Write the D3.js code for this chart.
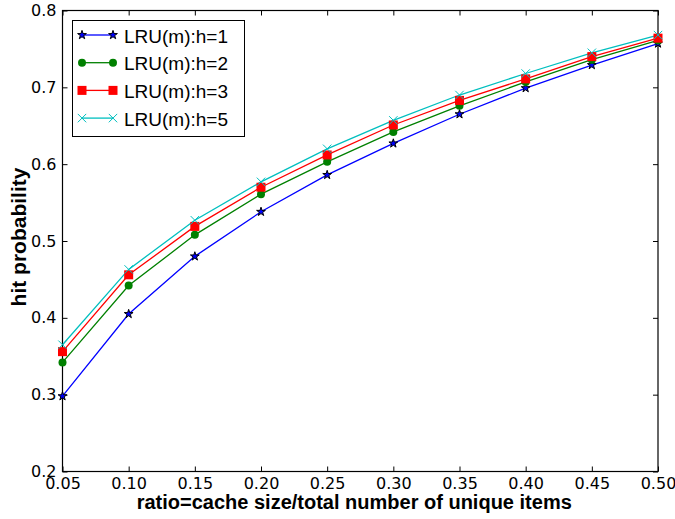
<!DOCTYPE html>
<html>
<head>
<meta charset="utf-8">
<script src="https://cdn.jsdelivr.net/npm/d3@7"></script>
<style>
  html, body { margin: 0; padding: 0; background: #fff; }
  svg { display: block; font-family: "Liberation Sans", Arial, Helvetica, sans-serif; }
</style>
</head>
<body>
<svg id="chart" width="675" height="519"></svg>
<script>
// Cache size ratios on the x axis
const ratios = [0.05, 0.10, 0.15, 0.20, 0.25, 0.30, 0.35, 0.40, 0.45, 0.50];

// Hit probability for LRU(m) with h levels
const hitH1 = [0.298, 0.405, 0.480, 0.538, 0.586, 0.627, 0.665, 0.699, 0.729, 0.757];
const hitH2 = [0.342, 0.442, 0.508, 0.561, 0.603, 0.642, 0.676, 0.707, 0.736, 0.761];
const hitH3 = [0.356, 0.456, 0.519, 0.570, 0.612, 0.651, 0.683, 0.711, 0.740, 0.764];
const hitH5 = [0.365, 0.463, 0.527, 0.577, 0.620, 0.657, 0.690, 0.718, 0.745, 0.768];

const seriesNames = ["LRU(m):h=1", "LRU(m):h=2", "LRU(m):h=3", "LRU(m):h=5"];

const xTicks = [0.05, 0.10, 0.15, 0.20, 0.25, 0.30, 0.35, 0.40, 0.45, 0.50];
const yTicks = [0.2, 0.3, 0.4, 0.5, 0.6, 0.7, 0.8];

const series = [
  { name: seriesNames[0], values: hitH1, color: "#0000ff", marker: "star" },
  { name: seriesNames[1], values: hitH2, color: "#008000", marker: "circle" },
  { name: seriesNames[2], values: hitH3, color: "#ff0000", marker: "square" },
  { name: seriesNames[3], values: hitH5, color: "#00bfbf", marker: "cross" }
];

const svg = d3.select("#chart");
const W = 675, H = 519;
const margin = { left: 62.5, top: 10.5, right: W - 658, bottom: H - 471.5 };

const x = d3.scaleLinear().domain([0.05, 0.50]).range([margin.left, W - margin.right]);
const y = d3.scaleLinear().domain([0.2, 0.8]).range([H - margin.bottom, margin.top]);

const tickFont = "'DejaVu Sans', Verdana, sans-serif";
const tickLen = 5;
const fmtX = d3.format(".2f");
const fmtY = d3.format(".1f");

// Bottom axis: inward ticks plus labels
const xAxisB = svg.append("g").attr("transform", `translate(0,${y(0.2)})`)
  .call(d3.axisBottom(x).tickValues(xTicks).tickFormat(fmtX).tickSizeInner(-tickLen).tickSizeOuter(0).tickPadding(6.5));
// Top axis: inward ticks only
const xAxisT = svg.append("g").attr("transform", `translate(0,${y(0.8)})`)
  .call(d3.axisTop(x).tickValues(xTicks).tickFormat("").tickSizeInner(-tickLen).tickSizeOuter(0));
// Left axis
const yAxisL = svg.append("g").attr("transform", `translate(${x(0.05)},0)`)
  .call(d3.axisLeft(y).tickValues(yTicks).tickFormat(fmtY).tickSizeInner(-tickLen).tickSizeOuter(0).tickPadding(6));
// Right axis
const yAxisR = svg.append("g").attr("transform", `translate(${x(0.50)},0)`)
  .call(d3.axisRight(y).tickValues(yTicks).tickFormat("").tickSizeInner(-tickLen).tickSizeOuter(0));

[xAxisB, xAxisT, yAxisL, yAxisR].forEach(g => {
  g.select(".domain").remove();
  g.selectAll(".tick line").attr("stroke", "#000").attr("stroke-width", 1);
  g.selectAll(".tick text").attr("fill", "#000").attr("font-size", 16)
    .attr("font-family", tickFont);
});

// Plot frame
svg.append("rect")
  .attr("x", x.range()[0]).attr("y", y.range()[1])
  .attr("width", x.range()[1] - x.range()[0])
  .attr("height", y.range()[0] - y.range()[1])
  .attr("fill", "none").attr("stroke", "#000").attr("stroke-width", 1.2);

// Axis titles
svg.append("text")
  .attr("x", (x.range()[0] + x.range()[1]) / 2 - 6)
  .attr("y", 509)
  .attr("text-anchor", "middle")
  .attr("font-size", 20).attr("font-weight", "bold")
  .text("ratio=cache size/total number of unique items");

svg.append("text")
  .attr("transform", `translate(26,237) rotate(-90)`)
  .attr("text-anchor", "middle")
  .attr("font-size", 21).attr("font-weight", "bold")
  .text("hit probability");

// Marker drawing helper
function drawMarker(g, type, color, cx, cy) {
  if (type === "star") {
    g.append("path")
      .attr("d", d3.symbol().type(d3.symbolStar).size(24)())
      .attr("transform", `translate(${cx},${cy})`)
      .attr("fill", color).attr("stroke", "#000").attr("stroke-width", 1);
  } else if (type === "circle") {
    g.append("circle").attr("cx", cx).attr("cy", cy).attr("r", 4)
      .attr("fill", color);
  } else if (type === "square") {
    g.append("rect").attr("x", cx - 4.5).attr("y", cy - 4.5)
      .attr("width", 9).attr("height", 9).attr("fill", color);
  } else if (type === "cross") {
    const s = 4.2;
    g.append("path")
      .attr("d", `M${cx - s},${cy - s}L${cx + s},${cy + s}M${cx - s},${cy + s}L${cx + s},${cy - s}`)
      .attr("stroke", color).attr("stroke-width", 1).attr("fill", "none");
  }
}

// Series lines and markers
const line = d3.line().x((d, i) => x(ratios[i])).y(d => y(d));
const plot = svg.append("g");
series.forEach(s => {
  plot.append("path").datum(s.values)
    .attr("d", line)
    .attr("fill", "none").attr("stroke", s.color).attr("stroke-width", 1.3);
});
series.forEach(s => {
  const g = plot.append("g");
  s.values.forEach((v, i) => drawMarker(g, s.marker, s.color, x(ratios[i]), y(v)));
});

// Legend
const legend = svg.append("g");
legend.append("rect")
  .attr("x", 72.5).attr("y", 20.5).attr("width", 172).attr("height", 116)
  .attr("fill", "#fff").attr("stroke", "#000").attr("stroke-width", 1);
series.forEach((s, i) => {
  const ly = 35 + i * 27.7;
  const x0 = 82, x1 = 113;
  legend.append("line").attr("x1", x0).attr("x2", x1).attr("y1", ly).attr("y2", ly)
    .attr("stroke", s.color).attr("stroke-width", 1.3);
  drawMarker(legend, s.marker, s.color, x0, ly);
  drawMarker(legend, s.marker, s.color, x1, ly);
  legend.append("text").attr("x", 124).attr("y", ly + 7.5)
    .attr("font-size", 19).attr("fill", "#000")
    .text(s.name);
});
</script>
</body>
</html>
